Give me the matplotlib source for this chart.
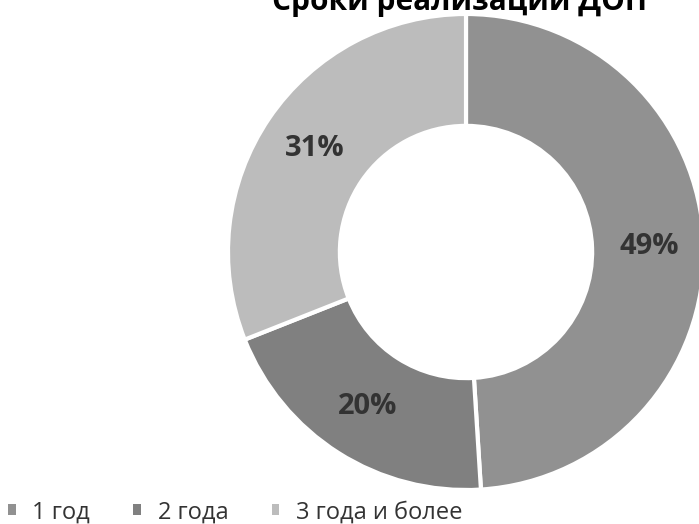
import matplotlib
matplotlib.use('Agg')
import matplotlib.pyplot as plt

# data
categories = ['1 год', '2 года', '3 года и более']
shares = [49, 20, 31]
colors = ['#919191', '#808080', '#bcbcbc']
title = 'Сроки реализации ДОП'

plt.rcParams['font.family'] = ['Open Sans', 'DejaVu Sans']

fig = plt.figure(figsize=(6.99, 5.24), dpi=100)

# donut: centre ~ (466, 252) px, radius ~ 238 px
ax = fig.add_axes([228 / 699, 34 / 524, 476 / 699, 476 / 524])
wedges, texts, autotexts = ax.pie(
    shares, colors=colors, startangle=90, counterclock=False,
    autopct='%d%%', pctdistance=0.77,
    wedgeprops=dict(width=0.47, edgecolor='white', linewidth=3),
    textprops=dict(fontsize=21, fontweight='bold', color='#333333'))
ax.set_xlim(-1, 1)
ax.set_ylim(-1, 1)
ax.axis('off')

# title, top partly cut off like in the scan
fig.text(460 / 699, 514 / 524, title, ha='center', va='baseline',
         fontsize=21.5, fontweight='bold', color='black')

leg = fig.legend(wedges, categories, loc='lower left', bbox_to_anchor=(0.008, -0.005),
                 ncol=3, frameon=False, fontsize=17, handlelength=0.32,
                 handleheight=0.32, handletextpad=0.7, columnspacing=1.85,
                 borderpad=0.1, borderaxespad=0, labelcolor='#333333')
for h in leg.legend_handles:
    h.set_edgecolor('none')

fig.savefig('out.png', dpi=100)
